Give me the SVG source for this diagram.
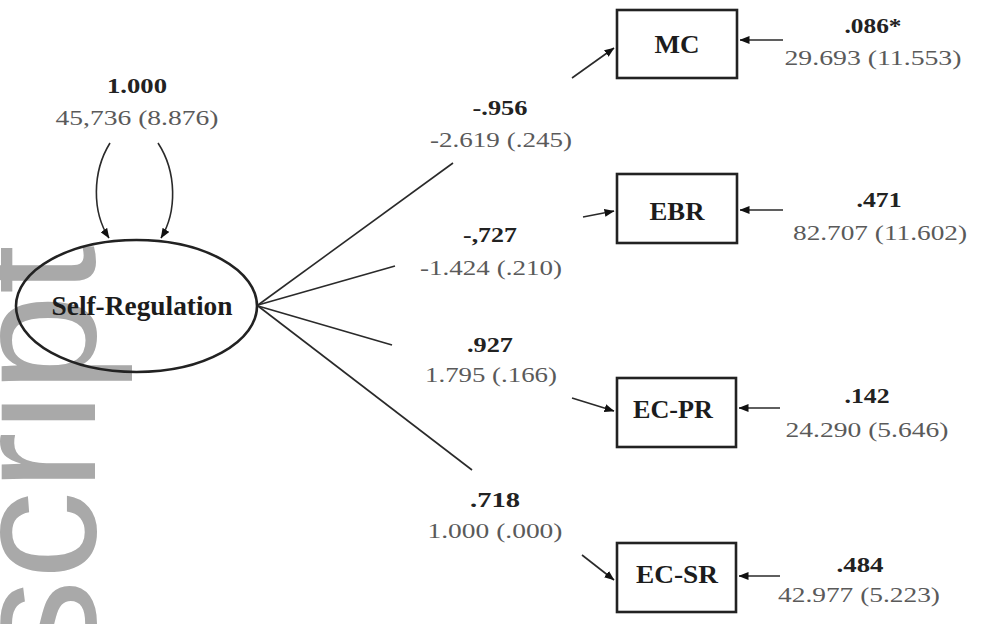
<svg xmlns="http://www.w3.org/2000/svg" width="981" height="624" viewBox="0 0 981 624">
  <style>
    .bg { fill: #ffffff; }
    .mark { font-family: "Liberation Sans", Arial, sans-serif; font-size: 177px; fill: #a9a9a9; }
    .node { fill: #ffffff; stroke: #222222; stroke-width: 2.6; }
    .lbl { font-family: "Liberation Serif", "Times New Roman", serif; font-weight: bold; fill: #1c1c1c; text-anchor: middle; }
    .big { font-size: 26px; }
    .std { font-family: "Liberation Serif", "Times New Roman", serif; font-weight: bold; font-size: 21px; fill: #222222; text-anchor: middle; }
    .est { font-family: "Liberation Serif", "Times New Roman", serif; font-size: 21px; fill: #5a5a5a; text-anchor: middle; }
    .edge { fill: none; stroke: #2a2a2a; stroke-width: 1.6; }
    .arr { marker-end: url(#head); }
  </style>
  <defs>
    <marker id="head" viewBox="0 0 10 8" refX="9.5" refY="4" markerWidth="10" markerHeight="8" markerUnits="userSpaceOnUse" orient="auto">
      <path d="M0,0 L10,4 L0,8 Z" fill="#111111"/>
    </marker>
  </defs>

  <rect class="bg" x="0" y="0" width="981" height="624"/>

  <!-- vertical watermark along the left margin -->
  <text class="mark" transform="translate(95,668) rotate(-90)">script</text>

  <!-- connectors -->
  <g id="connectors">
    <!-- variance loops on the latent factor -->
    <path class="edge arr" d="M110,143 C92,172 92,212 109,238"/>
    <path class="edge arr" d="M158,143 C177,172 177,212 161,238"/>
    <!-- loading paths (broken around their labels) -->
    <line class="edge" x1="258" y1="305" x2="453" y2="163"/>
    <line class="edge" x1="258" y1="305" x2="395" y2="266"/>
    <line class="edge" x1="258" y1="306" x2="392" y2="345"/>
    <line class="edge" x1="258" y1="306" x2="472" y2="470"/>
    <line class="edge arr" x1="572" y1="78" x2="614" y2="48"/>
    <line class="edge arr" x1="583" y1="217" x2="614" y2="211"/>
    <line class="edge arr" x1="572" y1="398" x2="614" y2="411"/>
    <line class="edge arr" x1="582" y1="555" x2="614" y2="580"/>
    <!-- residual arrows -->
    <line class="edge arr" x1="783" y1="40" x2="740" y2="40"/>
    <line class="edge arr" x1="783" y1="210" x2="740" y2="210"/>
    <line class="edge arr" x1="780" y1="408" x2="739" y2="408"/>
    <line class="edge arr" x1="780" y1="576" x2="739" y2="576"/>
  </g>

  <!-- latent factor -->
  <g id="self-regulation">
    <ellipse class="node" cx="136.5" cy="306" rx="120.5" ry="66" fill="none" style="fill:none"/>
    <text class="lbl" x="142" y="315" font-size="27" textLength="181" lengthAdjust="spacingAndGlyphs">Self-Regulation</text>
    <text class="std" x="137" y="93" textLength="60" lengthAdjust="spacingAndGlyphs">1.000</text>
    <text class="est" x="137" y="125" textLength="163" lengthAdjust="spacingAndGlyphs">45,736 (8.876)</text>
  </g>

  <!-- loading labels -->
  <g id="loadings">
    <text class="std" x="500" y="115" textLength="55" lengthAdjust="spacingAndGlyphs">-.956</text>
    <text class="est" x="501" y="147" textLength="142" lengthAdjust="spacingAndGlyphs">-2.619 (.245)</text>
    <text class="std" x="490" y="242" textLength="54" lengthAdjust="spacingAndGlyphs">-,727</text>
    <text class="est" x="491" y="275" textLength="142" lengthAdjust="spacingAndGlyphs">-1.424 (.210)</text>
    <text class="std" x="490" y="352" textLength="46" lengthAdjust="spacingAndGlyphs">.927</text>
    <text class="est" x="491" y="382" textLength="132" lengthAdjust="spacingAndGlyphs">1.795 (.166)</text>
    <text class="std" x="495" y="507" textLength="50" lengthAdjust="spacingAndGlyphs">.718</text>
    <text class="est" x="495" y="538" textLength="135" lengthAdjust="spacingAndGlyphs">1.000 (.000)</text>
  </g>

  <!-- indicators -->
  <g id="mc">
    <rect class="node" x="617" y="10" width="120" height="68"/>
    <text class="lbl big" x="677" y="53" textLength="45" lengthAdjust="spacingAndGlyphs">MC</text>
    <text class="std" x="873" y="33" textLength="57" lengthAdjust="spacingAndGlyphs">.086*</text>
    <text class="est" x="873" y="65" textLength="177" lengthAdjust="spacingAndGlyphs">29.693 (11.553)</text>
  </g>
  <g id="ebr">
    <rect class="node" x="617" y="174" width="120" height="69"/>
    <text class="lbl big" x="677" y="220" textLength="55" lengthAdjust="spacingAndGlyphs">EBR</text>
    <text class="std" x="879" y="207" textLength="45" lengthAdjust="spacingAndGlyphs">.471</text>
    <text class="est" x="880" y="240" textLength="174" lengthAdjust="spacingAndGlyphs">82.707 (11.602)</text>
  </g>
  <g id="ec-pr">
    <rect class="node" x="617" y="378" width="119" height="69"/>
    <text class="lbl big" x="673" y="418" textLength="80" lengthAdjust="spacingAndGlyphs">EC-PR</text>
    <text class="std" x="867" y="403" textLength="45" lengthAdjust="spacingAndGlyphs">.142</text>
    <text class="est" x="867" y="437" textLength="163" lengthAdjust="spacingAndGlyphs">24.290 (5.646)</text>
  </g>
  <g id="ec-sr">
    <rect class="node" x="617" y="543" width="119" height="69"/>
    <text class="lbl big" x="677" y="583" textLength="82" lengthAdjust="spacingAndGlyphs">EC-SR</text>
    <text class="std" x="860" y="572" textLength="47" lengthAdjust="spacingAndGlyphs">.484</text>
    <text class="est" x="859" y="602" textLength="162" lengthAdjust="spacingAndGlyphs">42.977 (5.223)</text>
  </g>
</svg>
